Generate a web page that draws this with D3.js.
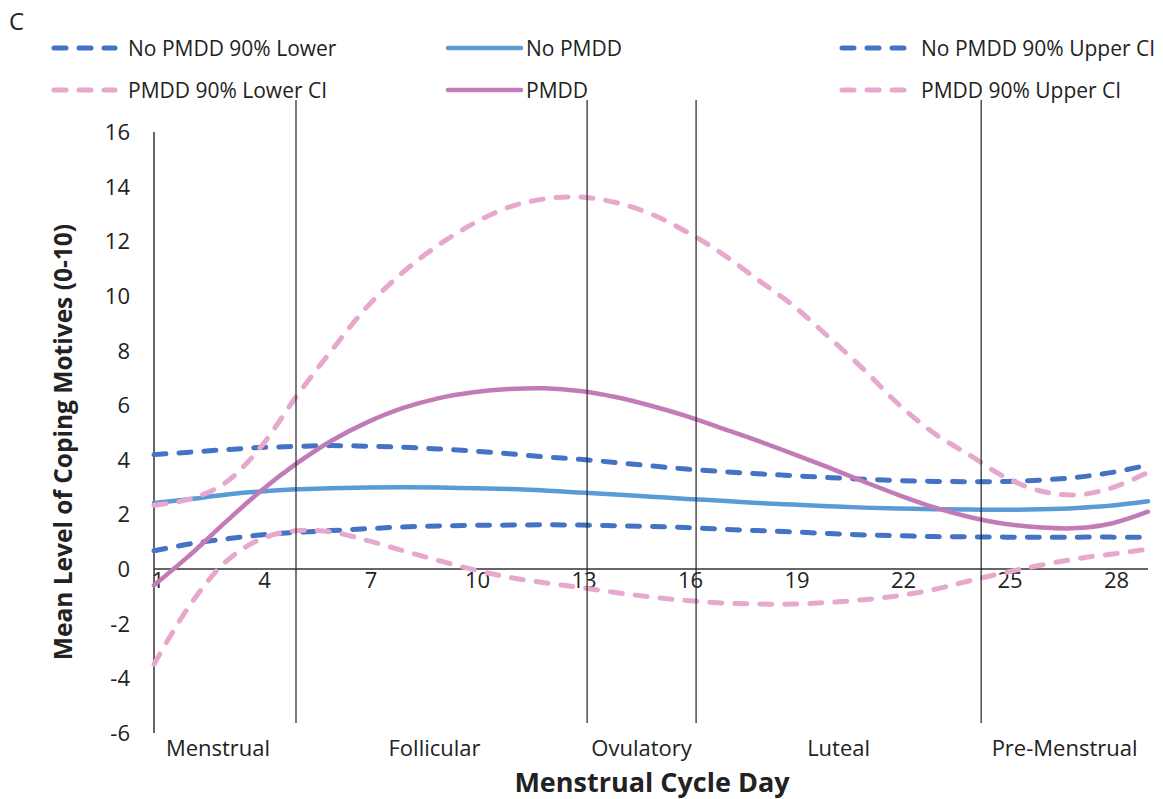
<!DOCTYPE html>
<html>
<head>
<meta charset="utf-8">
<script src="https://cdnjs.cloudflare.com/ajax/libs/d3/7.8.5/d3.min.js"></script>
<style>
    body { margin: 0; background: #fff; }
    svg text { font-family: "Open Sans", "Noto Sans", sans-serif; fill: #222; }
</style>
</head>
<body>
<svg id="chart" width="1163" height="799"></svg>
<script>
// 周期天数
var days = d3.range(1, 30);
// 各系列数值
var noPmddLower = [0.67, 0.92, 1.1, 1.25, 1.34, 1.41, 1.48, 1.54, 1.58, 1.6, 1.61, 1.62, 1.61, 1.59, 1.56,
    1.52, 1.46, 1.41, 1.36, 1.3, 1.25, 1.22, 1.19, 1.18, 1.17, 1.17, 1.17, 1.17, 1.16];
var noPmdd = [2.42, 2.56, 2.72, 2.84, 2.92, 2.96, 2.99, 3.0, 2.99, 2.96, 2.93, 2.88, 2.8, 2.73, 2.65,
    2.57, 2.5, 2.42, 2.36, 2.3, 2.25, 2.22, 2.19, 2.18, 2.17, 2.19, 2.24, 2.33, 2.48];
var noPmddUpper = [4.19, 4.28, 4.37, 4.45, 4.49, 4.52, 4.5, 4.46, 4.4, 4.32, 4.22, 4.11, 4.02, 3.9, 3.78,
    3.66, 3.57, 3.49, 3.42, 3.35, 3.29, 3.24, 3.21, 3.2, 3.21, 3.26, 3.36, 3.54, 3.81];
var pmddLower = [-3.48, -1.34, 0.24, 1.1, 1.4, 1.36, 1.05, 0.68, 0.32, -0.02, -0.3, -0.5, -0.67, -0.86, -1.02,
    -1.15, -1.24, -1.28, -1.28, -1.22, -1.12, -0.97, -0.74, -0.42, -0.12, 0.15, 0.38, 0.55, 0.73];
var pmdd = [-0.59, 0.5, 1.7, 2.85, 3.85, 4.7, 5.37, 5.89, 6.25, 6.47, 6.59, 6.62, 6.52, 6.3, 5.98,
    5.6, 5.15, 4.7, 4.22, 3.72, 3.2, 2.7, 2.25, 1.9, 1.65, 1.52, 1.5, 1.68, 2.1];
var pmddUpper = [2.34, 2.56, 3.15, 4.46, 6.3, 8.0, 9.6, 10.85, 11.85, 12.65, 13.25, 13.55, 13.62, 13.42, 13.0,
    12.35, 11.55, 10.6, 9.65, 8.5, 7.3, 6.0, 4.95, 4.15, 3.35, 2.85, 2.72, 2.98, 3.54];

var xTicks = [1, 4, 7, 10, 13, 16, 19, 22, 25, 28];
var yTicks = [-6, -4, -2, 0, 2, 4, 6, 8, 10, 12, 14, 16];
// 分期边界 (天) 与名称
var phaseBounds = [5.0, 13.2, 16.27, 24.3];
var phaseNames = ["Menstrual", "Follicular", "Ovulatory", "Luteal", "Pre-Menstrual"];

var seriesNames = ["No PMDD 90% Lower", "No PMDD", "No PMDD 90% Upper CI",
    "PMDD 90% Lower CI", "PMDD", "PMDD 90% Upper CI"];
var seriesValues = [noPmddLower, noPmdd, noPmddUpper, pmddLower, pmdd, pmddUpper];
var seriesColors = ["#4472c4", "#5b9bd5", "#4472c4", "#e6a8cd", "#c27bb6", "#e6a8cd"];
var seriesDashed = [true, false, true, true, false, true];

var svg = d3.select("#chart");
var x = d3.scaleLinear().domain([1, 29]).range([154, 1148]);
var y = d3.scaleLinear().domain([-6, 16]).range([733, 132]);

// 坐标轴
function drawAxes(svg) {
    var g = svg.append("g").attr("id", "axes");

    g.append("line")
        .attr("x1", x(1)).attr("x2", x(1))
        .attr("y1", y(16)).attr("y2", y(-6))
        .attr("stroke", "#333").attr("stroke-width", 1.5);

    g.append("line")
        .attr("x1", x(1)).attr("x2", x(29))
        .attr("y1", y(0)).attr("y2", y(0))
        .attr("stroke", "#333").attr("stroke-width", 1.5);

    g.selectAll(".ytick")
        .data(yTicks)
        .enter()
        .append("text")
        .attr("class", "ytick")
        .attr("x", x(1) - 24)
        .attr("y", function (d) { return y(d); })
        .attr("dy", 8)
        .attr("text-anchor", "end")
        .attr("font-size", 22)
        .text(function (d) { return d; });

    g.selectAll(".xtick")
        .data(xTicks)
        .enter()
        .append("text")
        .attr("class", "xtick")
        .attr("x", function (d) { return x(d) + 4; })
        .attr("y", y(0) + 19)
        .attr("text-anchor", "middle")
        .attr("font-size", 22)
        .text(function (d) { return d; });

    svg.append("text")
        .attr("x", 652)
        .attr("y", 792)
        .attr("text-anchor", "middle")
        .attr("font-size", 27)
        .attr("font-weight", "bold")
        .text("Menstrual Cycle Day");

    svg.append("text")
        .attr("transform", "translate(72,442) rotate(-90)")
        .attr("text-anchor", "middle")
        .attr("font-size", 24.5)
        .attr("font-weight", "bold")
        .text("Mean Level of Coping Motives (0-10)");

    svg.append("text")
        .attr("x", 9)
        .attr("y", 30)
        .attr("font-size", 24)
        .text("C");
}

// 折线
function drawSeries(svg) {
    var line = d3.line()
        .x(function (d) { return x(d[0]); })
        .y(function (d) { return y(d[1]); })
        .curve(d3.curveCatmullRom);

    var g = svg.append("g").attr("id", "series");
    seriesValues.forEach(function (vals, i) {
        g.append("path")
            .datum(days.map(function (d, j) { return [d, vals[j]]; }))
            .attr("fill", "none")
            .attr("stroke", seriesColors[i])
            .attr("stroke-width", seriesDashed[i] ? 5 : 4.5)
            .attr("stroke-linecap", "round")
            .attr("stroke-dasharray", seriesDashed[i] ? "12,13" : null)
            .attr("d", line);
    });
}

// 分期竖线和名称
function drawPhases(svg) {
    var g = svg.append("g").attr("id", "phases");
    g.selectAll("line")
        .data(phaseBounds)
        .enter()
        .append("line")
        .attr("x1", function (d) { return x(d); })
        .attr("x2", function (d) { return x(d); })
        .attr("y1", 100)
        .attr("y2", 723)
        .attr("stroke", "#222")
        .attr("stroke-width", 1.2);

    var edges = [1].concat(phaseBounds).concat([29]);
    g.selectAll("text")
        .data(phaseNames)
        .enter()
        .append("text")
        .attr("x", function (d, i) { return (x(edges[i]) + x(edges[i + 1])) / 2 - (i < 2 ? 7 : 0); })
        .attr("y", 756)
        .attr("text-anchor", "middle")
        .attr("font-size", 22)
        .text(function (d) { return d; });
}

// 图例
function drawLegend(svg) {
    var colX = [54, 448, 842];
    var textX = [128, 526, 921];
    var rowY = [48, 90];
    var sampleW = [61, 73, 66];
    var g = svg.append("g").attr("id", "legend");
    seriesNames.forEach(function (name, i) {
        var c = i % 3, r = Math.floor(i / 3);
        g.append("line")
            .attr("x1", colX[c]).attr("x2", colX[c] + sampleW[c])
            .attr("y1", rowY[r]).attr("y2", rowY[r])
            .attr("stroke", seriesColors[i])
            .attr("stroke-width", seriesDashed[i] ? 5 : 4.5)
            .attr("stroke-linecap", "round")
            .attr("stroke-dasharray", seriesDashed[i] ? "12,13" : null);
        g.append("text")
            .attr("x", textX[c])
            .attr("y", rowY[r])
            .attr("dy", 7.5)
            .attr("font-size", 21)
            .text(name);
    });
}

drawAxes(svg);
drawSeries(svg);
drawPhases(svg);
drawLegend(svg);
</script>
</body>
</html>
